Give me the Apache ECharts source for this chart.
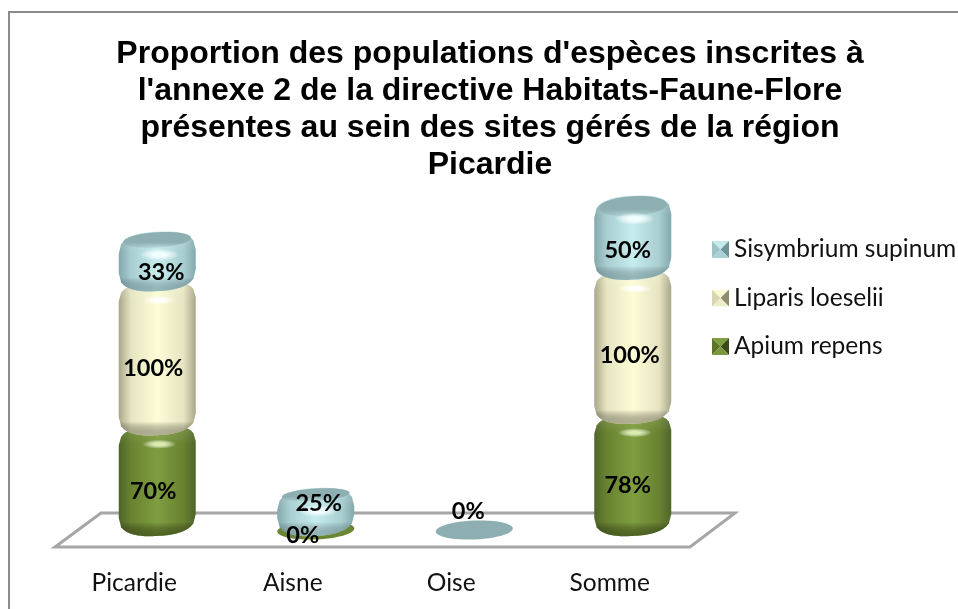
<!DOCTYPE html>
<html><head><meta charset="utf-8">
<style>html,body{margin:0;padding:0;background:#fff}#c{width:958px;height:609px}</style>
<script src="https://cdn.jsdelivr.net/npm/echarts@6/dist/echarts.min.js"></script>
</head><body><div id="c"></div>
<script>
const categories = ['Picardie','Aisne','Oise','Somme'];
const apiumRepens = [70, 0, null, 78];
const liparisLoeselii = [100, null, null, 100];
const sisymbriumSupinum = [33, 25, 0, 50];
const titleText = "Proportion des populations d'espèces inscrites à\nl'annexe 2 de la directive Habitats-Faune-Flore\nprésentes au sein des sites gérés de la région\nPicardie";

// label nudges (manual placement in the original), per category
const apiumNudge = [[-4,12],[-13,5],[0,0],[-5,12]];
const liparisNudge = [[-4,11],[0,0],[0,0],[-3,10]];
const sisymbriumNudge = [[4,11],[3,-9],[-6,-19],[-5,13]];

const DEPTH = 23, BAR_W = 77;
const palettes = {
  green: {edge:'#50652a', mid:'#688230', center:'#7f9e40', bottom:'rgba(60,78,22,0.7)', hi:'#dcebb0', cap:'#6f8a33', flat:'#6b8530'},
  cream: {edge:'#a9a78a', mid:'#e6e5c2', center:'#fdfcd6', bottom:'rgba(150,148,120,0.7)', hi:'#ffffff', cap:'#e9e8c2', flat:'#e9e8c2'},
  blue:  {edge:'#84a9ac', mid:'#a8ced1', center:'#c6ecee', bottom:'rgba(110,145,150,0.55)', hi:'#f2ffff', cap:'#8eafb1', flat:'#8eafb1'}
};
function blob(cx, w, yt, yb, topOver, botOver){
  const s = Math.min(14, (yb-yt)/2), n = 2.5, pts = [], N = 32, tilt = 2;
  const f = u => Math.pow(1-Math.pow(Math.abs(u),n),1/n);
  for(let i=0;i<=N;i++){const u=-1+2*i/N; pts.push([cx+u*w/2, yt+s-(topOver+s)*f(u)-tilt*u]);}
  for(let i=0;i<=N;i++){const u=1-2*i/N; pts.push([cx+u*w/2, yb-s+(botOver+s)*f(u)-tilt*u]);}
  return pts;
}
function ell(cx, cy, rx, ry, tilt){
  const pts=[];
  for(let i=0;i<48;i++){const a=i/48*Math.PI*2,u=Math.cos(a);pts.push([cx+rx*u,cy+ry*Math.sin(a)-tilt*u]);}
  return pts;
}
function makeRender(pal, nudge, isTop){
  return function(params, api){
    const i=api.value(0), base=api.value(1), v=api.value(2);
    const p0=api.coord([i,base]), p1=api.coord([i,base+v]);
    const cx=p0[0]+DEPTH, yb=p0[1], yt=p1[1];
    const LG=echarts.graphic.LinearGradient, RG=echarts.graphic.RadialGradient;
    const label={type:'text',z2:100,silent:true,
      x:cx+nudge[i][0], y:(yb+yt)/2+nudge[i][1],
      style:{text:v+'%',fill:'#000',font:'bold 23.5px Lato',align:'center',verticalAlign:'middle'}};
    if(v===0){
      return {type:'group',children:[
        {type:'polygon',shape:{points:ell(cx,yb,BAR_W/2,9.5,1.5)},style:{fill:pal.flat}},label]};
    }
    const over=isTop?6:4, apexT=yt-over, H=yb+6-apexT;
    const shape=blob(cx,BAR_W,yt,yb,over,6);
    const kids=[
      {type:'polygon',shape:{points:shape},style:{fill:new LG(0,0,1,0,[
        {offset:0,color:pal.edge},{offset:0.16,color:pal.mid},{offset:0.5,color:pal.center},
        {offset:0.84,color:pal.mid},{offset:1,color:pal.edge}])}},
      {type:'polygon',shape:{points:shape},style:{fill:new LG(0,0,0,1,[
        {offset:0,color:'rgba(255,255,255,0.14)'},{offset:Math.min(0.45,20/H),color:'rgba(255,255,255,0)'},
        {offset:Math.max(0.55,1-14/H),color:'rgba(0,0,0,0)'},{offset:1,color:pal.bottom}])}}
    ];
    if(isTop){
      const capRy=Math.min(10,H*0.13);
      kids.push({type:'polygon',shape:{points:ell(cx,apexT+capRy+0.5,BAR_W*0.44,capRy,2)},
        style:{fill:new LG(0,0,0,1,[{offset:0,color:pal.cap},{offset:0.65,color:pal.cap},{offset:1,color:'rgba(142,175,177,0.25)'}])}});
    }
    const hiY=apexT+(isTop?23:19), rx=isTop?20:17, ry=isTop?6:4.5;
    kids.push({type:'circle',shape:{cx:0,cy:0,r:rx},x:cx+2,y:hiY,scaleY:ry/rx,
      style:{fill:new RG(0.5,0.5,0.5,[{offset:0,color:pal.hi},{offset:0.3,color:pal.hi},{offset:1,color:'rgba(255,255,255,0)'}])}});
    kids.push(label);
    return {type:'group',children:kids};
  };
}
function rows(values, below){
  const out=[];
  values.forEach((v,i)=>{
    if(v===null) return;
    const base=below.reduce((s,arr)=>s+(arr[i]||0),0);
    out.push([i,base,v]);
  });
  return out;
}
function bevel(top,left,right,bottom){
  const svg=`<svg xmlns="http://www.w3.org/2000/svg" width="17" height="17"><polygon points="0,0 17,0 8.5,8.5" fill="${top}"/><polygon points="0,0 0,17 8.5,8.5" fill="${left}"/><polygon points="17,0 17,17 8.5,8.5" fill="${right}"/><polygon points="0,17 17,17 8.5,8.5" fill="${bottom}"/></svg>`;
  return 'image://data:image/svg+xml;charset=utf-8,'+encodeURIComponent(svg);
}
const chart=echarts.init(document.getElementById('c'),null,{renderer:'canvas'});
const seriesDefs=[
  {name:'Apium repens',values:apiumRepens,below:[],pal:palettes.green,nudge:apiumNudge,top:false},
  {name:'Liparis loeselii',values:liparisLoeselii,below:[apiumRepens],pal:palettes.cream,nudge:liparisNudge,top:false},
  {name:'Sisymbrium supinum',values:sisymbriumSupinum,below:[apiumRepens,liparisLoeselii],pal:palettes.blue,nudge:sisymbriumNudge,top:true}
];
chart.setOption({
  animation:false,
  backgroundColor:'#fff',
  title:{text:titleText,left:485,textAlign:'center',top:31,
    textStyle:{fontFamily:'Liberation Sans',fontWeight:'bold',fontSize:32,lineHeight:37,color:'#000'}},
  legend:{orient:'vertical',left:712,top:237,padding:0,itemWidth:17,itemHeight:17,itemGap:23.5,
    textStyle:{fontFamily:'Lato',fontSize:24.5,color:'#111'},
    data:[
      {name:'Sisymbrium supinum',icon:bevel('#c4eaec','#9cc3c6','#6f9497','#a9d0d3')},
      {name:'Liparis loeselii',icon:bevel('#fbfad2','#d8d7b2','#8f8d70','#eeedc8')},
      {name:'Apium repens',icon:bevel('#7f9e40','#5b7428','#39491a','#7a983c')}
    ]},
  grid:{left:55,width:634,top:170,height:360},
  xAxis:{type:'category',data:categories,axisLine:{show:false},axisTick:{show:false},
    axisLabel:{margin:41,fontFamily:'Lato',fontSize:24.5,color:'#111'}},
  yAxis:{type:'value',min:0,max:250,show:false,splitLine:{show:false}},
  graphic:[
    {type:'rect',z:-2,silent:true,shape:{x:9,y:12,width:1100,height:800},style:{fill:'#fff',stroke:'#8c8c8c',lineWidth:2}},
    {type:'polygon',z:-1,silent:true,shape:{points:[[55,547],[690,547],[735,513],[101,513]]},style:{fill:'#fff',stroke:'#a6a6a6',lineWidth:3}}
  ],
  series:seriesDefs.map(d=>({
    name:d.name,type:'custom',coordinateSystem:'cartesian2d',
    encode:{x:0,y:2},
    itemStyle:{color:d.pal.center},
    renderItem:makeRender(d.pal,d.nudge,d.top),
    data:rows(d.values,d.below)
  }))
});
</script></body></html>
